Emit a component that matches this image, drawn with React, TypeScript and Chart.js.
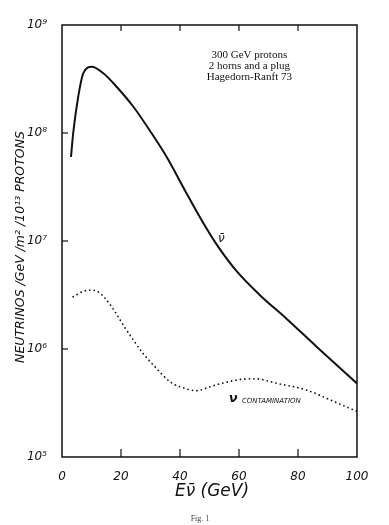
import React, { useEffect, useRef } from 'react';
import { Chart, registerables } from 'chart.js';

Chart.register(...registerables);

// Anti-neutrino flux (solid curve)
const antiEnergy = [3.05, 3.8, 5.5, 7.2, 10.1, 14, 18.5, 24.2, 29.8, 35.5, 41.5, 46.8, 52.4, 59.2, 67.1, 76.2, 86.3, 100];
const antiFlux = [6.0e7, 1.0e8, 2.17e8, 3.57e8, 4.1e8, 3.57e8, 2.68e8, 1.75e8, 1.05e8, 6.0e7, 3.0e7, 1.65e7, 9.3e6, 5.25e6, 3.15e6, 1.9e6, 1.05e6, 4.8e5];

// Neutrino contamination (dotted curve)
const nuEnergy = [3.8, 7, 10, 12.5, 14.6, 18, 20.8, 24.4, 27.6, 31.5, 36.6, 41.7, 45.7, 49.6, 54.1, 60.9, 65.4, 73, 82.9, 91, 97.6, 100];
const nuFlux = [3.05e6, 3.4e6, 3.52e6, 3.35e6, 2.95e6, 2.21e6, 1.66e6, 1.19e6, 9.0e5, 6.86e5, 4.98e5, 4.32e5, 4.11e5, 4.42e5, 4.81e5, 5.24e5, 5.3e5, 4.8e5, 4.17e5, 3.37e5, 2.82e5, 2.65e5];

const xTickValues = [0, 20, 40, 60, 80, 100];
const xTickLabels = ['0', '20', '40', '60', '80', '100'];
const yTickValues = [1e5, 1e6, 1e7, 1e8, 1e9];
const yTickLabels = ['10⁵', '10⁶', '10⁷', '10⁸', '10⁹'];

const infoLines = ['300 GeV protons', '2 horns and a plug', 'Hagedorn-Ranft 73'];
const yTitle = 'NEUTRINOS /GeV /m² /10¹³ PROTONS';
const xTitle = 'Eν̄ (GeV)';
const antiLabel = 'ν̄';
const nuLabel = 'ν';
const nuLabelSub = 'CONTAMINATION';
const figLabel = 'Fig. 1';

const INK = '#111111';

const decorPlugin = {
  id: 'decor',
  afterDraw(chart: any) {
    const { ctx, chartArea: a, scales } = chart;
    const xs = scales.x;
    const ys = scales.y;
    ctx.save();
    // frame
    ctx.strokeStyle = INK;
    ctx.lineWidth = 1.5;
    ctx.strokeRect(a.left, a.top, a.right - a.left, a.bottom - a.top);
    // inward ticks
    ctx.lineWidth = 1.2;
    xTickValues.slice(1, -1).forEach((v) => {
      const px = xs.getPixelForValue(v);
      ctx.beginPath();
      ctx.moveTo(px, a.bottom);
      ctx.lineTo(px, a.bottom - 8);
      ctx.moveTo(px, a.top);
      ctx.lineTo(px, a.top + 6);
      ctx.stroke();
    });
    yTickValues.slice(1, -1).forEach((v) => {
      const py = ys.getPixelForValue(v);
      ctx.beginPath();
      ctx.moveTo(a.left, py);
      ctx.lineTo(a.left + 6, py);
      ctx.stroke();
    });

    ctx.fillStyle = INK;
    // info text
    ctx.font = '11px "Liberation Serif", serif';
    ctx.textAlign = 'center';
    ctx.textBaseline = 'middle';
    const cx = xs.getPixelForValue(63.5);
    infoLines.forEach((t, i) => {
      ctx.fillText(t, cx, 55 + i * 11);
    });

    // curve labels
    ctx.font = 'italic 12px "DejaVu Sans", sans-serif';
    ctx.fillText(antiLabel, xs.getPixelForValue(54), ys.getPixelForValue(1.05e7));
    ctx.font = 'italic bold 13px "DejaVu Sans", sans-serif';
    ctx.fillText(nuLabel, xs.getPixelForValue(58), ys.getPixelForValue(3.5e5));
    ctx.font = 'italic 7px "DejaVu Sans", sans-serif';
    ctx.textAlign = 'left';
    ctx.fillText(nuLabelSub, xs.getPixelForValue(61), ys.getPixelForValue(3.3e5));

    // x title
    ctx.font = 'italic 17px "DejaVu Sans", sans-serif';
    ctx.textAlign = 'center';
    ctx.fillText(xTitle, 212, 492);

    // y title
    ctx.save();
    ctx.translate(21, 247);
    ctx.rotate(-Math.PI / 2);
    ctx.font = 'italic 12.5px "DejaVu Sans", sans-serif';
    ctx.fillText(yTitle, 0, 0);
    ctx.restore();

    // fig label
    ctx.font = '8px "Liberation Serif", serif';
    ctx.fillStyle = '#444';
    ctx.fillText(figLabel, 200, 519);
    ctx.restore();
  },
};

export default function App() {
  const ref = useRef<HTMLCanvasElement | null>(null);

  useEffect(() => {
    if (!ref.current) return;
    const chart = new Chart(ref.current, {
      type: 'line',
      data: {
        datasets: [
          {
            label: 'anti-neutrino',
            data: antiEnergy.map((x, i) => ({ x, y: antiFlux[i] })),
            borderColor: INK,
            borderWidth: 2,
            pointRadius: 0,
            cubicInterpolationMode: 'monotone',
            fill: false,
          },
          {
            label: 'neutrino contamination',
            data: nuEnergy.map((x, i) => ({ x, y: nuFlux[i] })),
            borderColor: INK,
            borderWidth: 1.8,
            borderDash: [0, 4.5],
            borderCapStyle: 'round',
            pointRadius: 0,
            cubicInterpolationMode: 'monotone',
            fill: false,
          },
        ],
      },
      options: {
        responsive: false,
        animation: false,
        layout: { padding: { left: 0, top: 25, right: 32, bottom: 0 } },
        plugins: { legend: { display: false }, tooltip: { enabled: false }, title: { display: false } },
        scales: {
          x: {
            type: 'linear',
            min: 0,
            max: 100,
            grid: { display: false },
            border: { display: false },
            afterBuildTicks: (s: any) => {
              s.ticks = xTickValues.map((v) => ({ value: v }));
            },
            afterFit: (s: any) => {
              s.height = 68;
            },
            ticks: {
              padding: 5,
              color: INK,
              maxRotation: 0,
              font: { family: '"DejaVu Sans", sans-serif', style: 'italic', size: 12 },
              callback: (v: any) => {
                const i = xTickValues.indexOf(Number(v));
                return i >= 0 ? xTickLabels[i] : '';
              },
            },
          },
          y: {
            type: 'logarithmic',
            min: 1e5,
            max: 1e9,
            grid: { display: false },
            border: { display: false },
            afterBuildTicks: (s: any) => {
              s.ticks = yTickValues.map((v) => ({ value: v }));
            },
            afterFit: (s: any) => {
              s.width = 62;
            },
            ticks: {
              padding: 7,
              color: INK,
              font: { family: '"DejaVu Sans", sans-serif', style: 'italic', size: 12 },
              callback: (v: any) => {
                const i = yTickValues.indexOf(Number(v));
                return i >= 0 ? yTickLabels[i] : '';
              },
            },
          },
        },
      },
      plugins: [decorPlugin],
    } as any);
    return () => chart.destroy();
  }, []);

  return (
    <div style={{ position: 'absolute', left: 0, top: 0, width: 389, height: 525, background: '#fff' }}>
      <canvas ref={ref} width={389} height={525} />
    </div>
  );
}
